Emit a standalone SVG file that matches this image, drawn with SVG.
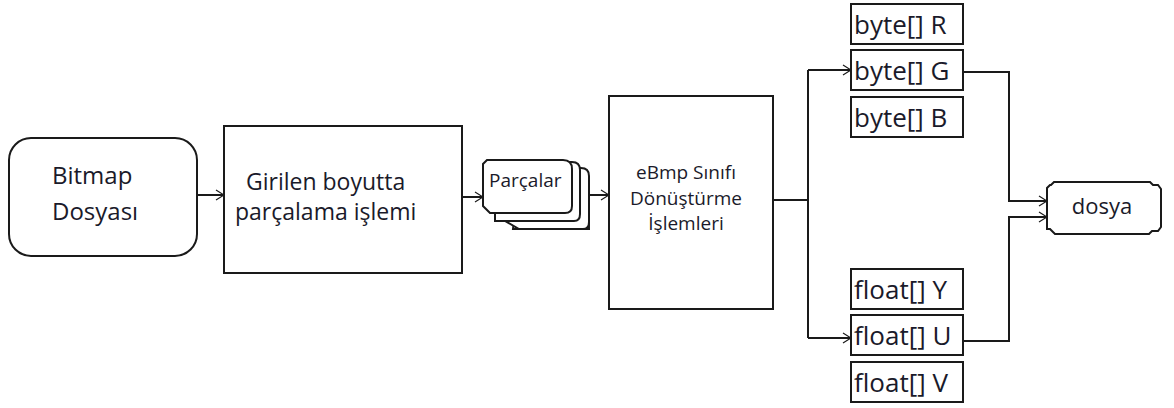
<svg xmlns="http://www.w3.org/2000/svg" width="1174" height="408" viewBox="0 0 1174 408">
<style>
.s{fill:#fff;stroke:#1a1a1a;stroke-width:2}
.t{font-family:"Open Sans","Noto Sans",sans-serif;fill:#1a1a2a}
.c{fill:none;stroke:#1a1a1a;stroke-width:2}
.b{font-size:26px}
</style>
<defs>
<marker id="a" markerWidth="10" markerHeight="12" refX="9" refY="6" orient="auto" markerUnits="userSpaceOnUse">
<path d="M1,1 L9,6 L1,11" fill="none" stroke="#1a1a1a" stroke-width="1.2"/>
</marker>
</defs>
<rect width="1174" height="408" fill="#fff"/>
<g id="connectors">
<line class="c" x1="197" y1="195" x2="224" y2="195" marker-end="url(#a)"/>
<line class="c" x1="462" y1="197" x2="483" y2="197" marker-end="url(#a)"/>
<line class="c" x1="589" y1="195" x2="609" y2="195" marker-end="url(#a)"/>
<polyline class="c" points="773,200 808,200"/>
<polyline class="c" points="808,70 808,338"/>
<line class="c" x1="808" y1="70" x2="851" y2="70" marker-end="url(#a)"/>
<line class="c" x1="808" y1="338" x2="851" y2="338" marker-end="url(#a)"/>
<polyline class="c" points="963,72 1009,72 1009,201 1047,201" marker-end="url(#a)"/>
<polyline class="c" points="963,341 1009,341 1009,217 1047,217" marker-end="url(#a)"/>
</g>
<g id="bitmap">
<rect class="s" x="9" y="138" width="188" height="118" rx="22"/>
<text class="t" x="52" y="184" font-size="24">Bitmap</text>
<text class="t" x="52" y="220" font-size="24">Dosyası</text>
</g>
<g id="parcalama">
<rect class="s" x="224" y="126" width="238" height="147"/>
<text class="t" x="246" y="190" font-size="23">Girilen boyutta</text>
<text class="t" x="235" y="220" font-size="23">parçalama işlemi</text>
</g>
<g id="parcalar">
<path class="s" d="M513,229 L589,229 Q589,177 580,176 L520,176 Z"/>
<path class="s" d="M519,229 L583,229 Q589,229 589,222 L589,176 Q589,168 581,168 L513,168 L505,176 L505,221 Z"/>
<path class="s" d="M495,221 L574,221 Q580,221 580,214 L580,170 Q580,162 572,162 L500,162 L495,170 Z"/>
<path class="s" d="M490,213 L565,213 Q572,213 572,206 L572,169 Q572,160 563,160 L487,160 L483,164 L483,206 Z"/>
<text class="t" x="489" y="187" font-size="19">Parçalar</text>
</g>
<g id="ebmp">
<rect class="s" x="609" y="96" width="164" height="213"/>
<text class="t" x="686" y="179" font-size="19" text-anchor="middle">eBmp Sınıfı</text>
<text class="t" x="686" y="205" font-size="19" text-anchor="middle">Dönüştürme</text>
<text class="t" x="686" y="230" font-size="19" text-anchor="middle">İşlemleri</text>
</g>
<g id="byteR"><rect class="s" x="851" y="4" width="112" height="40"/><text class="t b" x="854" y="34">byte[] R</text></g>
<g id="byteG"><rect class="s" x="851" y="50" width="112" height="40"/><text class="t b" x="854" y="80">byte[] G</text></g>
<g id="byteB"><rect class="s" x="851" y="97" width="112" height="40"/><text class="t b" x="854" y="127">byte[] B</text></g>
<g id="floatY"><rect class="s" x="851" y="269" width="112" height="40"/><text class="t b" x="854" y="299">float[] Y</text></g>
<g id="floatU"><rect class="s" x="851" y="315" width="112" height="40"/><text class="t b" x="854" y="345">float[] U</text></g>
<g id="floatV"><rect class="s" x="851" y="362" width="112" height="40"/><text class="t b" x="854" y="392">float[] V</text></g>
<g id="dosya">
<path class="s" d="M1054,182 L1150,182 L1153,185 L1158,185 L1161,189 L1161,227 L1158,231 L1152,231 L1149,234 L1055,234 L1050,229 L1047,229 L1047,188 L1050,185 L1051,185 Z"/>
<text class="t" x="1102" y="214" font-size="22" text-anchor="middle">dosya</text>
</g>
</svg>
